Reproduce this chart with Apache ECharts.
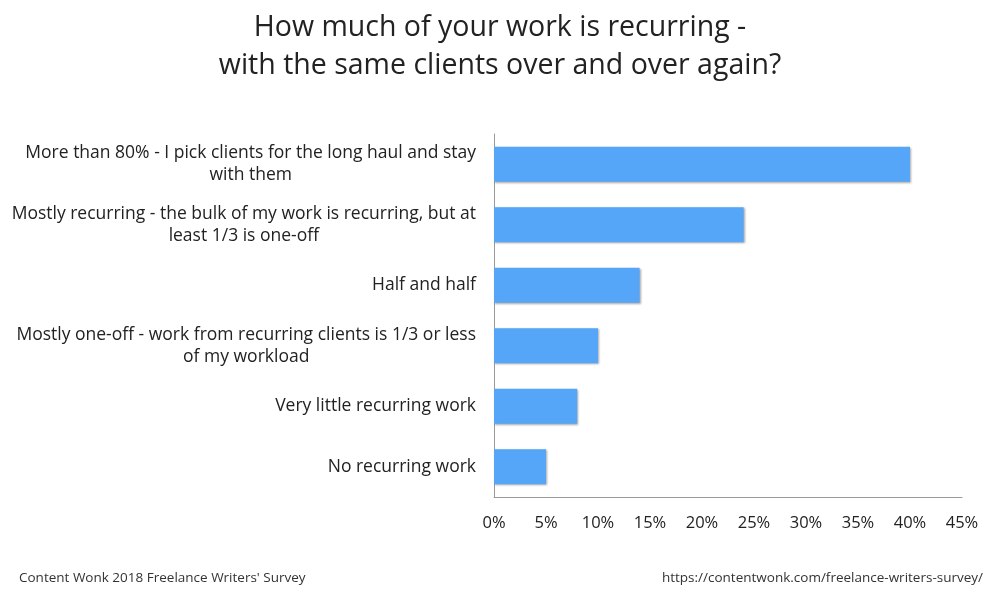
<!DOCTYPE html>
<html><head><meta charset="utf-8">
<script src="https://cdn.jsdelivr.net/npm/echarts@6/dist/echarts.min.js"></script>
<style>html,body{margin:0;padding:0;background:#fff}#c{width:1000px;height:594px}</style>
</head><body><div id="c"></div>
<script>
const categories = [
  "More than 80% - I pick clients for the long haul and stay\nwith them",
  "Mostly recurring - the bulk of my work is recurring, but at\nleast 1/3 is one-off",
  "Half and half",
  "Mostly one-off - work from recurring clients is 1/3 or less\nof my workload",
  "Very little recurring work",
  "No recurring work"
];
const values = [40, 24, 14, 10, 8, 5];
const chart = echarts.init(document.getElementById('c'));
const font = '"Open Sans", sans-serif';
chart.setOption({
  animation: false,
  title: [
    {text: "How much of your work is recurring -\nwith the same clients over and over again?", left: 'center', top: 4,
     textStyle: {fontFamily: font, fontSize: 28.5, fontWeight: 'normal', color: '#222', lineHeight: 38}},
    {text: "Content Wonk 2018 Freelance Writers' Survey", left: 14, top: 566,
     textStyle: {fontFamily: font, fontSize: 13.5, fontWeight: 'normal', color: '#333'}},
    {text: "https://contentwonk.com/freelance-writers-survey/", right: 12, top: 566,
     textStyle: {fontFamily: font, fontSize: 13.5, fontWeight: 'normal', color: '#333'}}
  ],
  grid: {left: 494, right: 38, top: 134, bottom: 97, containLabel: false},
  xAxis: {type: 'value', min: 0, max: 45, interval: 5,
    axisLine: {show: true, lineStyle: {color: '#999'}}, axisTick: {show: false},
    splitLine: {show: false},
    axisLabel: {formatter: '{value}%', fontFamily: font, fontSize: 16.5, color: '#222', margin: 18}},
  yAxis: {type: 'category', inverse: true, data: categories,
    axisLine: {show: true, lineStyle: {color: '#999'}}, axisTick: {show: false},
    axisLabel: {fontFamily: font, fontSize: 17.5, color: '#222', margin: 18, align: 'right', lineHeight: 22,
      formatter: v => v.split('\n').map(l => '{c|' + l + '}').join('\n'),
      rich: {c: {align: 'center', fontFamily: font, fontSize: 17.5, color: '#222', lineHeight: 22}}}},
  series: [{type: 'bar', data: values, barWidth: 35,
    itemStyle: {color: '#55a6f8', shadowColor: 'rgba(0,0,0,0.35)', shadowBlur: 2, shadowOffsetX: 1, shadowOffsetY: 1}}]
});
</script></body></html>
